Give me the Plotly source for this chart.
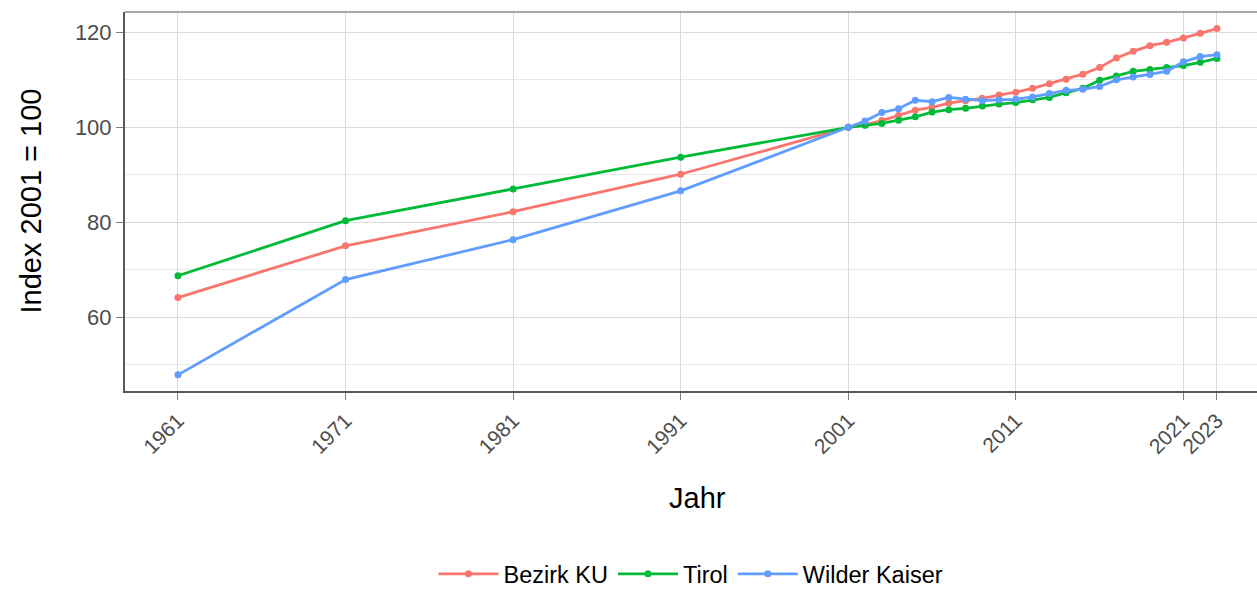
import plotly.graph_objects as go

years = [1961, 1971, 1981, 1991, 2001] + list(range(2002, 2024))

bezirk_ku = [64.1, 75.0, 82.2, 90.1, 100.0,
             100.5, 101.4, 102.5, 103.6, 104.2, 105.1, 105.6, 106.1, 106.8, 107.4,
             108.2, 109.2, 110.1, 111.2, 112.6, 114.6, 116.0, 117.2, 117.9, 118.8,
             119.8, 120.8]
tirol = [68.7, 80.3, 87.0, 93.7, 100.0,
         100.4, 100.8, 101.5, 102.2, 103.2, 103.7, 104.0, 104.5, 104.9, 105.2,
         105.8, 106.3, 107.3, 108.2, 109.9, 110.8, 111.8, 112.2, 112.6, 113.0,
         113.7, 114.5]
wilder_kaiser = [47.8, 67.9, 76.3, 86.6, 100.0,
                 101.3, 103.1, 103.9, 105.7, 105.4, 106.3, 105.9, 105.6, 105.8, 105.9,
                 106.4, 107.1, 107.8, 108.0, 108.6, 110.0, 110.6, 111.1, 111.8, 113.8,
                 114.9, 115.3]

series = [("Bezirk KU", bezirk_ku, "#F8766D"),
          ("Tirol", tirol, "#00BA38"),
          ("Wilder Kaiser", wilder_kaiser, "#619CFF")]

x_ticks = [1961, 1971, 1981, 1991, 2001, 2011, 2021, 2023]
y_ticks = [60, 80, 100, 120]
y_minor = [50, 70, 90, 110]

fig = go.Figure()
for name, vals, col in series:
    fig.add_trace(go.Scatter(x=years, y=vals, name=name, mode="lines+markers",
                             line=dict(color=col, width=2.8),
                             marker=dict(color=col, size=7)))

fig.add_vline(x=2001, line=dict(color="black", width=2))

W, H = 1257, 596
ml, mr, mt, mb = 125, 0, 12, 205
ph = H - mt - mb

fig.update_layout(
    width=W, height=H,
    margin=dict(l=ml, r=mr, t=mt, b=mb, pad=0),
    paper_bgcolor="white", plot_bgcolor="white",
    font=dict(family="Liberation Sans, Arial, sans-serif", color="#4d4d4d"),
    showlegend=True,
    legend=dict(orientation="h", x=0.5, xanchor="center",
                y=-mb / ph, yanchor="bottom",
                font=dict(size=23.5, color="black"),
                itemwidth=60, tracegroupgap=0),
    xaxis=dict(range=[1957.84, 2025.39], tickmode="array", tickvals=x_ticks,
               ticktext=[str(v) for v in x_ticks], tickangle=-45,
               tickfont=dict(size=21, color="#4d4d4d"),
               ticks="outside", ticklen=7, tickcolor="#7f7f7f", tickwidth=1,
               showgrid=True, gridcolor="#dadada", gridwidth=1,
               showline=True, linecolor="#595959", linewidth=2, mirror=False,
               zeroline=False, automargin=False),
    yaxis=dict(range=[44.4, 124.3], tickmode="array", tickvals=y_ticks,
               tickfont=dict(size=22, color="#4d4d4d"),
               ticks="outside", ticklen=7, tickcolor="#7f7f7f", tickwidth=1,
               showgrid=True, gridcolor="#dadada", gridwidth=1,
               minor=dict(tickvals=y_minor, showgrid=True, gridcolor="#e8e8e8",
                          gridwidth=1, ticks=""),
               showline=True, linecolor="#595959", linewidth=2, mirror=False,
               zeroline=False, automargin=False),
    shapes=[dict(type="line", xref="paper", yref="paper", x0=0, x1=1, y0=1, y1=1,
                 line=dict(color="#8c8c8c", width=1.5), layer="above")],
    annotations=[
        dict(text="Jahr", xref="paper", yref="paper", x=(697 - ml) / (W - ml - mr),
             y=-(498 - 391) / ph, xanchor="center", yanchor="middle",
             showarrow=False, font=dict(size=29, color="black")),
        dict(text="Index 2001 = 100", xref="paper", yref="paper",
             x=(30 - ml) / (W - ml - mr), y=0.5, textangle=-90,
             xanchor="center", yanchor="middle", showarrow=False,
             font=dict(size=29, color="black")),
    ],
)

fig.write_html("out.html", config={"displayModeBar": False},
               post_script="document.body.style.margin='0';")
